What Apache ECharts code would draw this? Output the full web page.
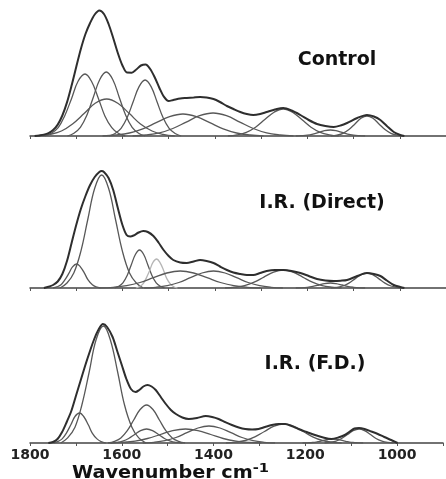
<!DOCTYPE html>
<html>
<head>
<meta charset="utf-8">
<script src="https://cdn.jsdelivr.net/npm/echarts@6/dist/echarts.min.js"></script>
<style>
  html, body { margin: 0; padding: 0; background: #fff; }
  #chart { width: 446px; height: 479px; }
</style>
</head>
<body>
<div id="chart"></div>
<script>
// wavenumber range and bottom tick labels
var wnMin = 900, wnMax = 1800;
var tickLabels = [1800, 1600, 1400, 1200, 1000];
var panelNames = ['Control', 'I.R. (Direct)', 'I.R. (F.D.)'];

// ---- Control ----  [wavenumber, intensity]
var ctrlEnvelope = [[1790,0],[1780,0.6],[1770,1.4],[1760,2.9],[1750,5.9],[1740,11.4],[1730,20.5],[1720,33.6],[1710,50.5],[1700,69],[1690,87],[1680,102],[1670,113],[1660,121.5],[1650,125.6],[1640,122],[1630,112],[1620,98],[1610,83],[1600,70.5],[1590,63.4],[1580,63.3],[1570,66.5],[1560,70.5],[1550,71.5],[1540,67],[1530,58.5],[1520,48],[1510,39.1],[1500,35],[1490,36],[1475,37.5],[1461,38],[1446,38.5],[1432,39],[1418,38.5],[1403,37],[1389,34],[1374,30],[1360,27],[1345,24],[1331,22],[1317,21],[1302,22],[1288,24],[1270,26.5],[1252,28],[1234,25.5],[1215,21],[1197,16],[1179,12],[1161,10],[1143,9],[1128,10.5],[1114,13],[1092,18],[1071,21],[1056,19.5],[1042,16],[1028,10],[1013,4],[999,1],[990,0]];
var ctrlBand1 = [[1768,0],[1754,2.7],[1739,8.4],[1725,20.1],[1710,37.6],[1696,54.7],[1681,62],[1667,54.7],[1652,37.6],[1638,20.1],[1623,8.4],[1609,2.7],[1594,0]];
var ctrlBand2 = [[1719,0],[1705,2.8],[1691,8.7],[1677,20.8],[1663,38.8],[1649,56.5],[1635,64],[1621,56.5],[1607,38.8],[1593,20.8],[1579,8.7],[1565,2.8],[1551,0]];
var ctrlBand3 = [[1781,0],[1757,1.6],[1732,5],[1708,12],[1683,22.4],[1659,32.7],[1634,37],[1610,32.7],[1585,22.4],[1561,12],[1536,5],[1512,1.6],[1487,0]];
var ctrlBand4 = [[1629,0],[1616,2.5],[1603,7.6],[1590,18.2],[1577,34],[1564,49.4],[1551,56],[1538,49.4],[1525,34],[1512,18.2],[1499,7.6],[1486,2.5],[1473,0]];
var ctrlBand5 = [[1643,0],[1614,1],[1585,3],[1556,7.1],[1527,13.3],[1498,19.4],[1469,22],[1440,19.4],[1411,13.3],[1382,7.1],[1353,3],[1324,1],[1295,0]];
var ctrlBand6 = [[1578,0],[1549,1],[1520,3.1],[1491,7.5],[1462,13.9],[1433,20.3],[1404,23],[1375,20.3],[1346,13.9],[1317,7.5],[1288,3.1],[1259,1],[1230,0]];
var ctrlBand7 = [[1372,0],[1352,1.2],[1332,3.7],[1312,8.8],[1292,16.4],[1272,23.8],[1252,27],[1232,23.8],[1212,16.4],[1192,8.8],[1172,3.7],[1152,1.2],[1132,0]];
var ctrlBand8 = [[1149,0],[1136,0.9],[1123,2.7],[1110,6.5],[1097,12.1],[1084,17.7],[1071,20],[1058,17.7],[1045,12.1],[1032,6.5],[1019,2.7],[1006,0.9],[993,0]];
var ctrlBand9 = [[1225,0],[1213,0.3],[1200,0.8],[1188,1.9],[1175,3.6],[1163,5.3],[1150,6],[1138,5.3],[1125,3.6],[1113,1.9],[1100,0.8],[1088,0.3],[1075,0]];

// ---- I.R. (Direct) ----
var directEnvelope = [[1770,0],[1760,1.2],[1750,3],[1740,6.5],[1730,14],[1720,27],[1710,45],[1700,63],[1690,79],[1680,92],[1670,103],[1660,111],[1650,116],[1645,117],[1640,116],[1630,110],[1620,98],[1610,80],[1600,63],[1591,53],[1583,51.5],[1576,52.5],[1565,55.5],[1555,57],[1545,56],[1533,52],[1522,45.5],[1511,38],[1500,32],[1490,28],[1475,25.5],[1461,25],[1446,26.5],[1432,28],[1418,27],[1403,25],[1389,21.5],[1374,18],[1360,15.5],[1345,14],[1331,13],[1317,13],[1302,15],[1288,17],[1270,18],[1252,18],[1234,17],[1215,15],[1197,12],[1179,9],[1161,7.5],[1143,7],[1128,7.3],[1114,8],[1092,12],[1071,15],[1056,14],[1042,12],[1028,7.5],[1013,3],[999,1],[990,0]];
var directBand1 = [[1735,0],[1720,5],[1705,15.3],[1690,36.7],[1675,68.5],[1660,99.7],[1645,113],[1630,99.7],[1615,68.5],[1600,36.7],[1585,15.3],[1570,5],[1555,0]];
var directBand2 = [[1750,0],[1742,1.1],[1733,3.2],[1725,7.8],[1716,14.6],[1708,21.2],[1699,24],[1691,21.2],[1682,14.6],[1674,7.8],[1665,3.2],[1657,1.1],[1648,0]];
var directBand3 = [[1617,0],[1608,1.7],[1599,5.1],[1590,12.3],[1581,23],[1572,33.5],[1563,38],[1554,33.5],[1545,23],[1536,12.3],[1527,5.1],[1518,1.7],[1509,0]];
var directBand4 = [[1571,0],[1564,1.3],[1556,3.9],[1549,9.4],[1541,17.6],[1534,25.6],[1526,29],[1519,25.6],[1511,17.6],[1504,9.4],[1496,3.9],[1489,1.3],[1481,0]];
var directBand5 = [[1649,0],[1620,0.7],[1591,2.3],[1562,5.5],[1533,10.3],[1504,15],[1475,17],[1446,15],[1417,10.3],[1388,5.5],[1359,2.3],[1330,0.7],[1301,0]];
var directBand6 = [[1553,0],[1528,0.7],[1503,2.3],[1478,5.5],[1453,10.3],[1428,15],[1403,17],[1378,15],[1353,10.3],[1328,5.5],[1303,2.3],[1278,0.7],[1253,0]];
var directBand7 = [[1378,0],[1357,0.8],[1336,2.4],[1315,5.8],[1294,10.9],[1273,15.9],[1252,18],[1231,15.9],[1210,10.9],[1189,5.8],[1168,2.4],[1147,0.8],[1126,0]];
var directBand8 = [[1149,0],[1136,0.7],[1123,2],[1110,4.9],[1097,9.1],[1084,13.2],[1071,15],[1058,13.2],[1045,9.1],[1032,4.9],[1019,2],[1006,0.7],[993,0]];
var directBand9 = [[1225,0],[1213,0.2],[1200,0.7],[1188,1.6],[1175,3],[1163,4.4],[1150,5],[1138,4.4],[1125,3],[1113,1.6],[1100,0.7],[1088,0.2],[1075,0]];

// ---- I.R. (F.D.) ----
var fdEnvelope = [[1760,0],[1750,1],[1740,4],[1730,11],[1720,21],[1710,32],[1700,47],[1690,62],[1680,77],[1670,91],[1660,104],[1650,114],[1641,119],[1632,116],[1620,106],[1610,92],[1600,78],[1590,64],[1580,54],[1570,51],[1562,53],[1553,56.5],[1544,58],[1535,56.5],[1526,53],[1515,46],[1504,39],[1493,33],[1482,29],[1468,25.5],[1454,24],[1436,25],[1417,27],[1403,26],[1389,24],[1375,21],[1360,18],[1345,15.5],[1331,14],[1316,13.5],[1302,14],[1288,16],[1273,18],[1258,19],[1244,19],[1230,17],[1215,14],[1197,11],[1179,8],[1161,5.5],[1143,4],[1128,5.5],[1114,8],[1103,11.5],[1093,14.5],[1083,15],[1071,14],[1056,11.5],[1042,9],[1028,6],[1013,3],[999,0]];
var fdBand1 = [[1733,0],[1718,5.1],[1702,15.8],[1687,38],[1671,71],[1656,103.3],[1640,117],[1625,103.3],[1609,71],[1594,38],[1578,15.8],[1563,5.1],[1547,0]];
var fdBand2 = [[1749,0],[1740,1.3],[1730,4.1],[1721,9.7],[1711,18.2],[1702,26.5],[1692,30],[1683,26.5],[1673,18.2],[1664,9.7],[1654,4.1],[1645,1.3],[1635,0]];
var fdBand3 = [[1630,0],[1616,1.7],[1602,5.1],[1588,12.3],[1574,23],[1560,33.5],[1546,38],[1532,33.5],[1518,23],[1504,12.3],[1490,5.1],[1476,1.7],[1462,0]];
var fdBand4 = [[1624,0],[1611,0.6],[1598,1.9],[1585,4.5],[1572,8.5],[1559,12.4],[1546,14],[1533,12.4],[1520,8.5],[1507,4.5],[1494,1.9],[1481,0.6],[1468,0]];
var fdBand5 = [[1626,0],[1599,0.6],[1571,1.9],[1544,4.5],[1516,8.5],[1489,12.4],[1461,14],[1434,12.4],[1406,8.5],[1379,4.5],[1351,1.9],[1324,0.6],[1296,0]];
var fdBand6 = [[1554,0],[1530,0.7],[1506,2.3],[1482,5.5],[1458,10.3],[1434,15],[1410,17],[1386,15],[1362,10.3],[1338,5.5],[1314,2.3],[1290,0.7],[1266,0]];
var fdBand7 = [[1373,0],[1352,0.8],[1331,2.5],[1310,6.2],[1289,11.5],[1268,16.8],[1247,19],[1226,16.8],[1205,11.5],[1184,6.2],[1163,2.5],[1142,0.8],[1121,0]];
var fdBand8 = [[1158,0],[1146,0.6],[1133,1.9],[1121,4.5],[1108,8.5],[1096,12.4],[1083,14],[1071,12.4],[1058,8.5],[1046,4.5],[1033,1.9],[1021,0.6],[1008,0]];
var fdBand9 = [[1206,0],[1195,0.2],[1184,0.5],[1173,1.3],[1162,2.4],[1151,3.5],[1140,4],[1129,3.5],[1118,2.4],[1107,1.3],[1096,0.5],[1085,0.2],[1074,0]];

var panels = [
  { env: ctrlEnvelope, bands: [ctrlBand1, ctrlBand2, ctrlBand3, ctrlBand4, ctrlBand5, ctrlBand6, ctrlBand7, ctrlBand8, ctrlBand9], light: -1 },
  { env: directEnvelope, bands: [directBand1, directBand2, directBand3, directBand4, directBand5, directBand6, directBand7, directBand8, directBand9], light: 3 },
  { env: fdEnvelope, bands: [fdBand1, fdBand2, fdBand3, fdBand4, fdBand5, fdBand6, fdBand7, fdBand8, fdBand9], light: -1 }
];

var gridTops = [6, 158, 313];
var titlePos = [[337, 60], [322, 203], [315, 364]];

var grids = [], xAxes = [], yAxes = [], series = [], texts = [];

panels.forEach(function (p, i) {
  var bottom = (i === 2);
  grids.push({ left: 30, right: 0, top: gridTops[i], height: 130 });
  xAxes.push({
    type: 'value', gridIndex: i, inverse: true, min: wnMin, max: wnMax, interval: 100,
    axisLine: { lineStyle: { color: '#444', width: 1.5 } },
    axisTick: { show: true, length: 3, lineStyle: { color: '#555' } },
    splitLine: { show: false },
    axisLabel: {
      show: bottom, margin: 5,
      fontFamily: 'DejaVu Sans', fontWeight: 'bold', fontSize: 14, color: '#222',
      formatter: function (v) { return tickLabels.indexOf(v) >= 0 ? String(v) : ''; }
    }
  });
  yAxes.push({ type: 'value', gridIndex: i, min: 0, max: 130, show: false });

  p.bands.forEach(function (b, k) {
    series.push({
      type: 'line', xAxisIndex: i, yAxisIndex: i, data: b, smooth: 0.4,
      showSymbol: false, silent: true, z: 2,
      lineStyle: { color: k === p.light ? '#b5b5b5' : '#585858', width: 1.3 }
    });
  });
  series.push({
    type: 'line', xAxisIndex: i, yAxisIndex: i, data: p.env, smooth: 0.3,
    showSymbol: false, silent: true, z: 3,
    lineStyle: { color: '#2e2e2e', width: 2 }
  });

  texts.push({
    type: 'text', x: titlePos[i][0], y: titlePos[i][1],
    style: {
      text: panelNames[i], fill: '#111', font: 'bold 19px "DejaVu Sans"',
      textAlign: 'center', textVerticalAlign: 'middle'
    }
  });
});

texts.push({
  type: 'text', x: 72, y: 462, scaleX: 1.13,
  style: {
    text: '{a|Wavenumber cm}{b|-1}',
    fill: '#111',
    rich: {
      a: { fontFamily: 'DejaVu Sans', fontWeight: 'bold', fontSize: 17, lineHeight: 20, verticalAlign: 'bottom', fill: '#111' },
      b: { fontFamily: 'DejaVu Sans', fontWeight: 'bold', fontSize: 13, lineHeight: 20, verticalAlign: 'top', fill: '#111' }
    }
  }
});

var chart = echarts.init(document.getElementById('chart'));
chart.setOption({
  animation: false,
  backgroundColor: '#fff',
  grid: grids,
  xAxis: xAxes,
  yAxis: yAxes,
  series: series,
  graphic: texts
});
</script>
</body>
</html>
